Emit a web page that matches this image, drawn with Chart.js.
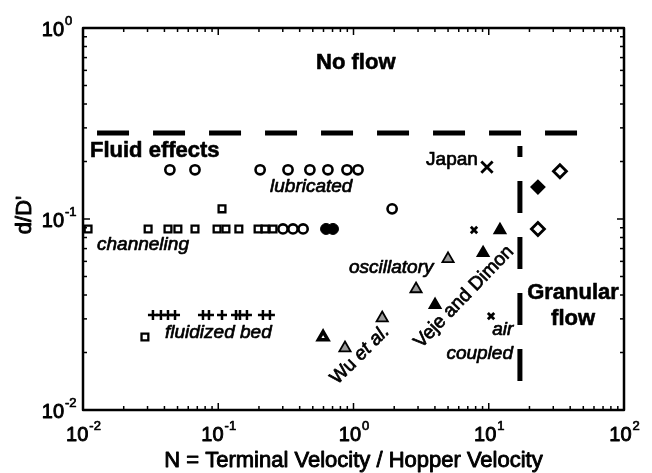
<!DOCTYPE html>
<html>
<head>
<meta charset="utf-8">
<script src="https://cdn.jsdelivr.net/npm/chart.js@4/dist/chart.umd.min.js"></script>
<style>
  body { margin: 0; background: #fff; }
</style>
</head>
<body>
<canvas id="phase" width="652" height="473"></canvas>
<script>
// open circles: lubricated runs plus a few extra points
const openCircleX = [0.0439, 0.0673, 0.204, 0.328, 0.476, 0.647, 0.895, 1.08, 1.93, 0.301, 0.357, 0.424];
const openCircleY = [0.181, 0.181, 0.181, 0.181, 0.181, 0.181, 0.181, 0.181, 0.113, 0.0887, 0.0887, 0.0887];

// open squares: channeling
const squareX = [0.0109, 0.0303, 0.0425, 0.0503, 0.0673, 0.098, 0.114, 0.142, 0.197, 0.222, 0.254, 0.1066, 0.0287];
const squareY = [0.0887, 0.0887, 0.0887, 0.0887, 0.0887, 0.0887, 0.0887, 0.0887, 0.0887, 0.0887, 0.0887, 0.113, 0.0241];

// plus signs: fluidized bed
const plusX = [0.0329, 0.0377, 0.0425, 0.0479, 0.0771, 0.0854, 0.1066, 0.1353, 0.1448, 0.163, 0.214, 0.241];
const plusY = [0.0314, 0.0314, 0.0314, 0.0314, 0.0314, 0.0314, 0.0314, 0.0314, 0.0314, 0.0314, 0.0314, 0.0314];

// grey triangles: Wu et al.
const wuX = [0.865, 1.63, 2.90, 5.0];
const wuY = [0.0211, 0.0303, 0.0430, 0.0618];

// black triangles: Veje and Dimon
const vejeX = [4.01, 9.08, 12.1];
const vejeY = [0.0355, 0.0664, 0.0876];

const filledDotX = [0.627, 0.705];
const filledDotY = [0.0887, 0.0887];

const boldTriX = [0.596];
const boldTriY = [0.0241];

// small crosses: air coupled
const airX = [7.78, 10.4];
const airY = [0.0876, 0.031];

const japanX = [9.7];
const japanY = [0.187];

const openDiamondX = [33.6, 23.1];
const openDiamondY = [0.178, 0.0887];
const filledDiamondX = [23.1];
const filledDiamondY = [0.147];

// regime boundaries
const fluidLineX = [0.0127, 45.7];
const fluidLineY = [0.282, 0.282];
const granularLineX = [17.0, 17.0];
const granularLineY = [0.241, 0.0140];

const xExps = [-2, -1, 0, 1, 2];
const yExps = [-2, -1, 0];

const FONT = '"Liberation Sans", Arial, sans-serif';

const pts = (xs, ys) => xs.map((v, i) => ({ x: v, y: ys[i] }));

function marks(xs, ys, style, extra) {
  return Object.assign({
    data: pts(xs, ys),
    pointStyle: style,
    borderColor: '#000',
    backgroundColor: '#fff',
    showLine: false
  }, extra);
}

function boundary(xs, ys, offset) {
  return {
    data: pts(xs, ys),
    showLine: true,
    pointRadius: 0,
    borderColor: '#000',
    borderWidth: 5,
    borderCapStyle: 'butt',
    borderDash: [32, 24],
    borderDashOffset: offset
  };
}

// filled text with a thin outline so it reads a little heavier
function ink(ctx, text, x, y, weight) {
  ctx.fillText(text, x, y);
  ctx.lineWidth = weight;
  ctx.strokeText(text, x, y);
}

function sup(ctx, base, exp, x, y, align) {
  ctx.font = '20px ' + FONT;
  const wb = ctx.measureText(base).width;
  ctx.font = '13px ' + FONT;
  const we = ctx.measureText(exp).width;
  let left;
  if (align === 'center') left = x - (wb + we) / 2;
  else left = x - wb;
  ctx.textAlign = 'left';
  ctx.textBaseline = 'alphabetic';
  ctx.font = '20px ' + FONT;
  ink(ctx, base, left, y, 0.9);
  ctx.font = '13px ' + FONT;
  ink(ctx, exp, left + wb + 1, y - 11, 0.7);
}

const notes = [
  { text: 'No flow', x: 1.04, y: 0.656, font: 'bold 22px', align: 'center', w: 0.6 },
  { text: 'Fluid effects', x: 0.01127, y: 0.226, font: 'bold 22px', align: 'left', w: 0.6 },
  { text: 'Japan', x: 3.44, y: 0.204, font: '19px', align: 'left', w: 0.7 },
  { text: 'lubricated', x: 0.2415, y: 0.147, font: 'italic 19px', align: 'left', w: 0.7 },
  { text: 'channeling', x: 0.0127, y: 0.0731, font: 'italic 19px', align: 'left', w: 0.7 },
  { text: 'fluidized bed', x: 0.0404, y: 0.0253, font: 'italic 19px', align: 'left', w: 0.7 },
  { text: 'oscillatory', x: 0.927, y: 0.0554, font: 'italic 19px', align: 'left', w: 0.7 },
  { text: 'air', x: 12.7, y: 0.0262, font: 'italic 19px', align: 'center', w: 0.7 },
  { text: 'coupled', x: 15.1, y: 0.0196, font: 'italic 19px', align: 'right', w: 0.7 },
  { text: 'Granular', x: 42.0, y: 0.041, font: 'bold 22px', align: 'center', w: 0.6 },
  { text: 'flow', x: 42.0, y: 0.0299, font: 'bold 22px', align: 'center', w: 0.6 }
];

const decor = {
  id: 'decor',
  afterDraw(chart) {
    const { ctx, chartArea: a, scales: { x, y } } = chart;
    ctx.save();
    ctx.fillStyle = '#000';
    ctx.strokeStyle = '#000';
    ctx.lineJoin = 'round';

    // in-plot region labels
    notes.forEach(n => {
      ctx.font = n.font + ' ' + FONT;
      ctx.textAlign = n.align;
      ctx.textBaseline = 'middle';
      ink(ctx, n.text, x.getPixelForValue(n.x), y.getPixelForValue(n.y), n.w);
    });

    // slanted series names
    ctx.save();
    ctx.translate(x.getPixelForValue(1.117), y.getPixelForValue(0.0194));
    ctx.rotate(-Math.PI / 4);
    ctx.textBaseline = 'middle';
    ctx.font = '19px ' + FONT;
    const wWu = ctx.measureText('Wu ').width;
    ctx.font = 'italic 19px ' + FONT;
    const wEt = ctx.measureText('et al.').width;
    ctx.textAlign = 'left';
    ctx.font = '19px ' + FONT;
    ink(ctx, 'Wu ', -(wWu + wEt) / 2, 0, 0.7);
    ctx.font = 'italic 19px ' + FONT;
    ink(ctx, 'et al.', -(wWu + wEt) / 2 + wWu, 0, 0.7);
    ctx.restore();

    ctx.save();
    ctx.translate(x.getPixelForValue(6.56), y.getPixelForValue(0.0391));
    ctx.rotate(-46 * Math.PI / 180);
    ctx.font = '19px ' + FONT;
    ctx.textAlign = 'center';
    ctx.textBaseline = 'middle';
    ink(ctx, 'Veje and Dimon', 0, 0, 0.7);
    ctx.restore();

    // box
    ctx.lineWidth = 2.5;
    ctx.strokeRect(a.left, a.top, a.right - a.left, a.bottom - a.top);

    // inward major and minor ticks on every side
    ctx.lineWidth = 1.5;
    const seg = (x1, y1, x2, y2) => { ctx.beginPath(); ctx.moveTo(x1, y1); ctx.lineTo(x2, y2); ctx.stroke(); };
    for (let e = xExps[0]; e < xExps[xExps.length - 1]; e++) {
      for (let m = 1; m < 10; m++) {
        const px = x.getPixelForValue(m * Math.pow(10, e));
        const len = m === 1 ? 7 : 4;
        seg(px, a.bottom, px, a.bottom - len);
        seg(px, a.top, px, a.top + len);
      }
    }
    for (let e = yExps[0]; e < yExps[yExps.length - 1]; e++) {
      for (let m = 1; m < 10; m++) {
        const py = y.getPixelForValue(m * Math.pow(10, e));
        const len = m === 1 ? 7 : 4;
        seg(a.left, py, a.left + len, py);
        seg(a.right, py, a.right - len, py);
      }
    }

    // tick labels
    xExps.forEach(e => sup(ctx, '10', String(e), x.getPixelForValue(Math.pow(10, e)), a.bottom + 31, 'center'));
    yExps.forEach(e => sup(ctx, '10', String(e), a.left - 19, y.getPixelForValue(Math.pow(10, e)) + 8, 'right'));

    // axis titles
    ctx.font = '22px ' + FONT;
    ctx.textAlign = 'center';
    ctx.textBaseline = 'alphabetic';
    ink(ctx, 'N = Terminal Velocity / Hopper Velocity', (a.left + a.right) / 2, a.bottom + 57, 0.9);
    ctx.save();
    ctx.translate(25, 215);
    ctx.rotate(-Math.PI / 2);
    ctx.textBaseline = 'middle';
    ink(ctx, "d/D'", 0, 0, 0.9);
    ctx.restore();

    ctx.restore();
  }
};

new Chart(document.getElementById('phase'), {
  type: 'scatter',
  data: {
    datasets: [
      boundary(fluidLineX, fluidLineY, 0),
      boundary(granularLineX, granularLineY, 21),
      marks(openCircleX, openCircleY, 'circle', { pointRadius: 4.6, borderWidth: 2.6 }),
      marks(squareX, squareY, 'rect', { pointRadius: 4.8, borderWidth: 2.3 }),
      marks(plusX, plusY, 'cross', { pointRadius: 5, borderWidth: 2.5 }),
      marks(wuX, wuY, 'triangle', { pointRadius: 6.5, borderWidth: 1.8, backgroundColor: '#9a9a9a' }),
      marks(vejeX, vejeY, 'triangle', { pointRadius: 6.5, borderWidth: 1.8, backgroundColor: '#000' }),
      marks(filledDotX, filledDotY, 'circle', { pointRadius: 5.5, borderWidth: 1, backgroundColor: '#000' }),
      marks(boldTriX, boldTriY, 'triangle', { pointRadius: 5.5, borderWidth: 3.5 }),
      marks(airX, airY, 'crossRot', { pointRadius: 4.5, borderWidth: 2.8 }),
      marks(japanX, japanY, 'crossRot', { pointRadius: 8, borderWidth: 2.8 }),
      marks(openDiamondX, openDiamondY, 'rectRot', { pointRadius: 6.5, borderWidth: 2.8 }),
      marks(filledDiamondX, filledDiamondY, 'rectRot', { pointRadius: 6.5, borderWidth: 2, backgroundColor: '#000' })
    ]
  },
  options: {
    responsive: false,
    animation: false,
    layout: { padding: { left: 83, right: 28, top: 28, bottom: 63 } },
    plugins: { legend: { display: false }, tooltip: { enabled: false } },
    scales: {
      x: { type: 'logarithmic', min: 0.01, max: 100, display: false },
      y: { type: 'logarithmic', min: 0.01, max: 1, display: false }
    }
  },
  plugins: [decor]
});
</script>
</body>
</html>
